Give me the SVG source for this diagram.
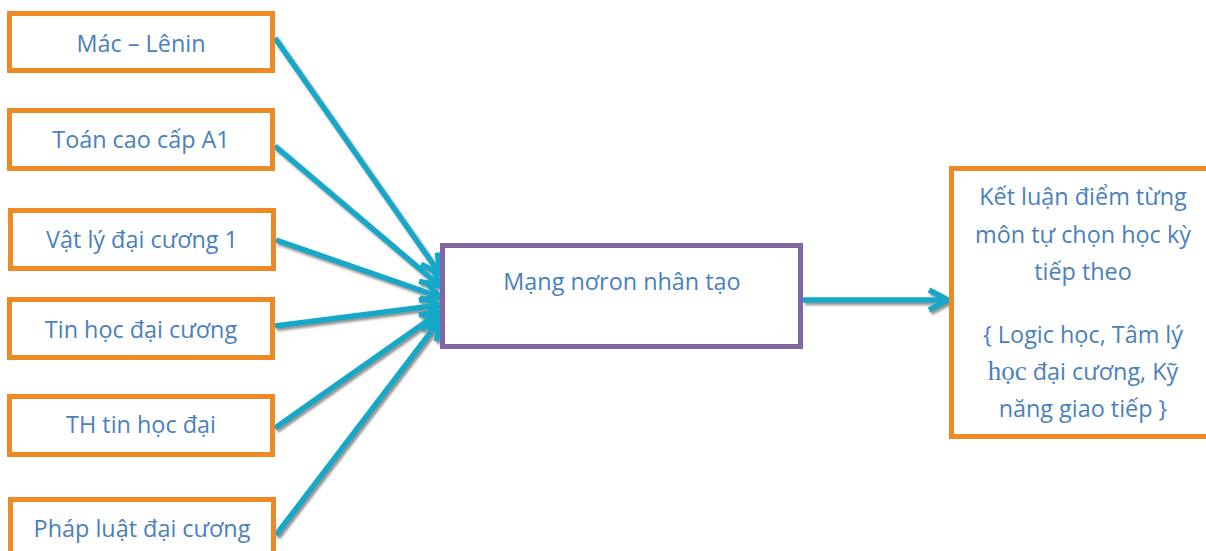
<svg xmlns="http://www.w3.org/2000/svg" width="1206" height="551" viewBox="0 0 1206 551">
  <style>
    .in rect { fill: #ffffff; stroke: #EE8A26; stroke-width: 5; }
    .core rect { fill: #ffffff; stroke: #8066A6; stroke-width: 5; }
    .out rect { fill: #ffffff; stroke: #EE8A26; stroke-width: 5; }
    text { font-family: "Open Sans", "Noto Sans", "DejaVu Sans", sans-serif; font-size: 23.4px; fill: #4A7FBE; text-anchor: middle; }
    .serif { font-family: "Liberation Serif", "DejaVu Serif", serif; font-size: 27px; }
    .link { fill: none; stroke: #17A8C8; stroke-width: 5.5; marker-end: url(#chev); }
  </style>
  <defs>
    <marker id="chev" markerUnits="userSpaceOnUse" viewBox="-24 -14 28 28" markerWidth="28" markerHeight="28" refX="0" refY="0" orient="auto">
      <path d="M-19,-10 L0,0 L-19,10" fill="none" stroke="#17A8C8" stroke-width="5.5" stroke-linejoin="miter"/>
    </marker>
    <filter id="shade" x="-10%" y="-10%" width="120%" height="120%">
      <feDropShadow dx="2" dy="2.5" stdDeviation="0.9" flood-color="#6e6e6e" flood-opacity="0.75"/>
    </filter>
  </defs>

  <rect width="1206" height="551" fill="#ffffff"/>

  <!-- connectors -->
  <g id="connectors" filter="url(#shade)">
    <line class="link" x1="275" y1="38" x2="440" y2="274"/>
    <line class="link" x1="275" y1="146" x2="440" y2="286"/>
    <line class="link" x1="276" y1="240" x2="440" y2="297"/>
    <line class="link" x1="275" y1="326" x2="440" y2="305"/>
    <line class="link" x1="275" y1="428" x2="440" y2="312"/>
    <line class="link" x1="276" y1="535" x2="440" y2="320"/>
    <line class="link" x1="803" y1="300" x2="948" y2="300"/>
  </g>

  <!-- input subjects -->
  <g id="mac-lenin" class="in">
    <rect x="9.5" y="13.5" width="263" height="57"/>
    <text x="141" y="52">Mác – Lênin</text>
  </g>
  <g id="toan-cao-cap" class="in">
    <rect x="9.5" y="110.5" width="263" height="58"/>
    <text x="141" y="148">Toán cao cấp A1</text>
  </g>
  <g id="vat-ly" class="in">
    <rect x="10.5" y="210.5" width="263" height="58"/>
    <text x="142" y="248">Vật lý đại cương 1</text>
  </g>
  <g id="tin-hoc" class="in">
    <rect x="9.5" y="299.5" width="263" height="58"/>
    <text x="141" y="338">Tin học đại cương</text>
  </g>
  <g id="th-tin-hoc" class="in">
    <rect x="9.5" y="396.5" width="263" height="58"/>
    <text x="141" y="433">TH tin học đại</text>
  </g>
  <g id="phap-luat" class="in">
    <rect x="10.5" y="499.5" width="263" height="60"/>
    <text x="142" y="537">Pháp luật đại cương</text>
  </g>

  <!-- network -->
  <g id="mang-noron" class="core">
    <rect x="442.5" y="245.5" width="358" height="101"/>
    <text x="622" y="290">Mạng nơron nhân tạo</text>
  </g>

  <!-- result -->
  <g id="ket-luan" class="out">
    <rect x="951.5" y="168.5" width="262" height="268"/>
    <text x="1083" y="205">Kết luận điểm từng</text>
    <text x="1083" y="243">môn tự chọn học kỳ</text>
    <text x="1083" y="280">tiếp theo</text>
    <text x="1083" y="343">{ Logic học, Tâm lý</text>
    <text x="1083" y="380"><tspan class="serif">học</tspan> đại cương, Kỹ</text>
    <text x="1083" y="417">năng giao tiếp }</text>
  </g>
</svg>
